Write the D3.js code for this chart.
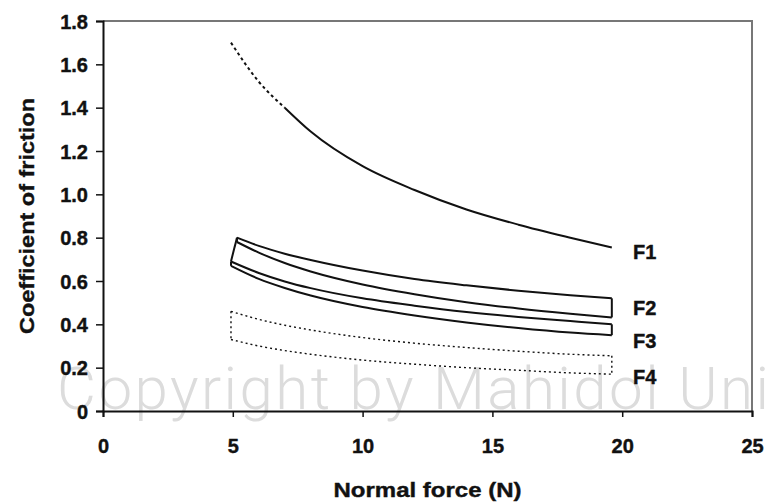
<!DOCTYPE html>
<html>
<head>
<meta charset="utf-8">
<title>Coefficient of friction vs normal force</title>
<script src="https://d3js.org/d3.v7.min.js"></script>
<style>
    body { margin: 0; background: #fff; }
    svg { display: block; }
    text { font-family: "Liberation Sans", Arial, sans-serif; font-weight: bold; fill: #111; }
</style>
</head>
<body>
<svg width="766" height="503"></svg>
<script>
// normal force values (N) where each curve was read
const forceF1 = [4.93, 6, 7, 8, 10, 12, 14, 16, 18, 19.6];
const muF1 = [1.70, 1.52, 1.40, 1.29, 1.13, 1.02, 0.93, 0.86, 0.80, 0.755];
const dottedUntil = 7; // F1 is drawn dotted below this force

const forceF2 = [5.16, 6, 7, 8, 10, 12, 14, 16, 18, 19.6];
const muF2Upper = [0.80, 0.762, 0.726, 0.697, 0.648, 0.609, 0.580, 0.555, 0.534, 0.52];
const muF2Lower = [0.78, 0.731, 0.683, 0.644, 0.584, 0.539, 0.502, 0.473, 0.449, 0.432];

const forceF3 = [4.93, 6, 7, 8, 10, 12, 14, 16, 18, 19.6];
const muF3Upper = [0.69, 0.637, 0.598, 0.567, 0.520, 0.486, 0.457, 0.434, 0.415, 0.40];
const muF3Lower = [0.67, 0.610, 0.568, 0.533, 0.480, 0.441, 0.409, 0.383, 0.362, 0.35];

const forceF4 = [4.93, 6, 7, 8, 10, 12, 14, 16, 18, 19.6];
const muF4Upper = [0.46, 0.423, 0.396, 0.374, 0.339, 0.313, 0.293, 0.276, 0.262, 0.255];
const muF4Lower = [0.33, 0.300, 0.279, 0.262, 0.235, 0.216, 0.200, 0.188, 0.176, 0.17];

const seriesLabels = ['F1', 'F2', 'F3', 'F4'];
const xTicks = [0, 5, 10, 15, 20, 25];
const yTicks = [0, 0.2, 0.4, 0.6, 0.8, 1.0, 1.2, 1.4, 1.6, 1.8];
const yTickLabels = ['0', '0.2', '0.4', '0.6', '0.8', '1.0', '1.2', '1.4', '1.6', '1.8'];

const svg = d3.select('svg');
const x = d3.scaleLinear().domain([0, 25]).range([103, 752]);
const y = d3.scaleLinear().domain([0, 1.8]).range([411, 21]);

// watermark behind everything
svg.append('text')
    .attr('x', 57).attr('y', 409)
    .attr('textLength', 712)
    .style('font-family', 'Roboto, "Liberation Sans", sans-serif')
    .style('font-weight', 300)
    .style('font-size', '60px')
    .style('fill', '#dcdcdc')
    .text('Copyright by Mahidol Uni');

// plot frame (top and right)
svg.append('path')
    .attr('d', `M${x(0)},${y(1.8)}H${x(25)}V${y(0)}`)
    .attr('fill', 'none').attr('stroke', '#777').attr('stroke-width', 2);

// axes
const xAxis = svg.append('g')
    .attr('transform', `translate(0,${y(0)})`)
    .call(d3.axisBottom(x).tickValues(xTicks).tickSize(6).tickPadding(22).tickFormat(d3.format('d')));
const yAxis = svg.append('g')
    .attr('transform', `translate(${x(0)},0)`)
    .call(d3.axisLeft(y).tickValues(yTicks).tickSize(7).tickPadding(8).tickFormat((d, i) => yTickLabels[i]));
[xAxis, yAxis].forEach(a => {
    a.select('.domain').attr('stroke', '#111').attr('stroke-width', 2);
    a.selectAll('.tick line').attr('stroke', '#111').attr('stroke-width', 1.5);
    a.selectAll('.tick text').style('font-size', '20px').attr('fill', '#111')
        .style('font-family', '"Liberation Sans", Arial, sans-serif').style('font-weight', 'bold')
        .attr('stroke', '#111').attr('stroke-width', 0.4);
});
yAxis.selectAll('.tick text').attr('dy', '0.36em');

// axis titles
svg.append('text')
    .attr('x', (x(0) + x(25)) / 2).attr('y', 497)
    .attr('text-anchor', 'middle')
    .attr('textLength', 188).attr('lengthAdjust', 'spacingAndGlyphs')
    .attr('stroke', '#111').attr('stroke-width', 0.4)
    .style('font-size', '21px')
    .text('Normal force (N)');
svg.append('text')
    .attr('transform', `translate(34,${(y(0) + y(1.8)) / 2}) rotate(-90)`)
    .attr('text-anchor', 'middle')
    .attr('textLength', 236).attr('lengthAdjust', 'spacingAndGlyphs')
    .attr('stroke', '#111').attr('stroke-width', 0.4)
    .style('font-size', '21px')
    .text('Coefficient of friction');

const line = d3.line().x(d => x(d[0])).y(d => y(d[1])).curve(d3.curveMonotoneX);
const zip = (xs, ys) => xs.map((v, i) => [v, ys[i]]);

function drawCurve(pts, dash, width) {
    svg.append('path')
        .attr('d', line(pts))
        .attr('fill', 'none')
        .attr('stroke', '#111')
        .attr('stroke-width', width)
        .attr('stroke-dasharray', dash);
}

function drawBand(xs, upper, lower, dash, width) {
    const up = zip(xs, upper), lo = zip(xs, lower);
    drawCurve(up, dash, width);
    drawCurve(lo, dash, width);
    // close the band at both ends
    const n = xs.length - 1;
    drawCurve([up[0], lo[0]], dash, width);
    svg.append('path')
        .attr('d', `M${x(up[n][0])},${y(up[n][1])}V${y(lo[n][1])}`)
        .attr('fill', 'none').attr('stroke', '#111')
        .attr('stroke-width', width).attr('stroke-dasharray', dash);
}

// F1: dotted at low force, solid after
const f1 = zip(forceF1, muF1);
drawCurve(f1.filter(d => d[0] <= dottedUntil), '3,3', 2);
drawCurve(f1.filter(d => d[0] >= dottedUntil), null, 2);

drawBand(forceF2, muF2Upper, muF2Lower, null, 2);
drawBand(forceF3, muF3Upper, muF3Lower, null, 2);
// the F2/F3 bands share a slanted left edge
drawCurve([[forceF2[0], muF2Upper[0]], [forceF3[0], muF3Upper[0]]], null, 2);
drawBand(forceF4, muF4Upper, muF4Lower, '2,3', 1.4);

// series labels at the right end of each curve
const n = muF1.length - 1;
const labelMu = [muF1[n], (muF2Upper[n] + muF2Lower[n]) / 2,
                 (muF3Upper[n] + muF3Lower[n]) / 2, muF4Lower[n]];
const labelShift = [4, 0, 11, 3]; // pixel nudges so labels sit as in the figure
svg.selectAll('.series-label')
    .data(seriesLabels)
    .join('text')
    .attr('class', 'series-label')
    .attr('x', 633)
    .attr('y', (d, i) => y(labelMu[i]) + labelShift[i])
    .attr('dy', '0.36em')
    .attr('stroke', '#111').attr('stroke-width', 0.4)
    .style('font-size', '20px')
    .text(d => d);
</script>
</body>
</html>
